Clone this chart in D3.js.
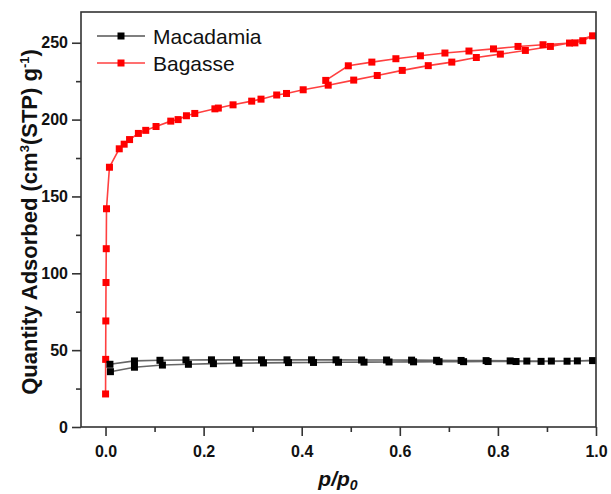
<!DOCTYPE html>
<html>
<head>
<meta charset="utf-8">
<script src="https://cdn.jsdelivr.net/npm/d3@7"></script>
<style>
body{margin:0;background:#fff;}
text{font-family:Arial,"Liberation Sans",sans-serif;}
</style>
</head>
<body>
<svg id="svg" width="611" height="494"></svg>
<script>
// Macadamia isotherm
var macAdsP = [0.01,0.059,0.116,0.169,0.22,0.272,0.322,0.373,0.424,0.475,0.527,0.578,0.628,0.68,0.73,0.78,0.837,0.888,0.941,0.993];
var macAdsV = [36,38.9,40.3,40.8,41.2,41.5,41.7,41.9,42,42.1,42.2,42.3,42.4,42.5,42.5,42.6,42.6,42.7,42.8,43.2];
var macDesP = [0.962,0.909,0.859,0.825,0.776,0.725,0.675,0.624,0.573,0.522,0.47,0.42,0.37,0.318,0.267,0.216,0.164,0.111,0.059,0.009];
var macDesV = [43,42.9,42.9,43,43.2,43.3,43.4,43.5,43.6,43.6,43.7,43.7,43.7,43.7,43.7,43.7,43.6,43.4,43.0,40.8];

// Bagasse isotherm
var bagAdsP = [0.0001,0.0003,0.0006,0.001,0.0015,0.002,0.008,0.028,0.038,0.049,0.067,0.082,0.103,0.133,0.148,0.165,0.182,0.223,0.23,0.26,0.298,0.317,0.349,0.369,0.403,0.454,0.506,0.554,0.605,0.658,0.706,0.756,0.805,0.856,0.907,0.946,0.993];
var bagAdsV = [21.5,44,69,94,116,142,169,181,184,187,191,193,195.5,199,200,202.5,204,207,207.5,209.6,212,213.3,216,217,219.4,222.4,225.7,228.7,232,235.1,237.4,240.4,242.6,245,247.6,249.8,254.5];
var bagDesP = [0.973,0.957,0.892,0.841,0.791,0.741,0.692,0.642,0.592,0.543,0.495,0.449];
var bagDesV = [251.3,249.9,248.7,247.6,246,244.6,243.3,241.5,239.6,237.4,235,225.5];

var xTicks = [0,0.2,0.4,0.6,0.8,1.0];
var yTicks = [0,50,100,150,200,250];
var seriesNames = ["Macadamia","Bagasse"];

var pL = 81, pR = 596, pT = 12, pB = 427;

var x = d3.scaleLinear().domain([-0.05,1.0]).range([pL,pR]);
var y = d3.scaleLinear().domain([0,270]).range([pB,pT]);

var svg = d3.select("svg");

var toPts = function(ps,vs){
    return ps.map(function(p,i){ return [p,vs[i]]; });
};

var bag = toPts(bagAdsP,bagAdsV).concat(toPts(bagDesP,bagDesV));
var mac = toPts(macAdsP,macAdsV).concat(toPts(macDesP,macDesV));

var series = [
    {name:"Bagasse",pts:bag,line:"#ff4040",mark:"#ff0000"},
    {name:"Macadamia",pts:mac,line:"#666666",mark:"#000000"}
];

var line = d3.line()
    .x(function(d){ return x(d[0]); })
    .y(function(d){ return y(d[1]); });

var plot = svg.append("g");

series.forEach(function(s){
    plot.append("path")
	.attr("d",line(s.pts))
	.attr("fill","none")
	.attr("stroke",s.line)
	.attr("stroke-width",1.6);
    plot.selectAll(null)
	.data(s.pts)
	.enter()
	.append("rect")
	.attr("x",function(d){ return x(d[0])-3.5; })
	.attr("y",function(d){ return y(d[1])-3.5; })
	.attr("width",7)
	.attr("height",7)
	.attr("fill",s.mark);
});

// frame
svg.append("rect")
    .attr("x",pL).attr("y",pT)
    .attr("width",pR-pL).attr("height",pB-pT)
    .attr("fill","none")
    .attr("stroke","#333")
    .attr("stroke-width",1.6);

// axes
svg.append("g")
    .attr("transform","translate(0,"+pB+")")
    .call(d3.axisBottom(x).tickValues(xTicks).tickSize(9).tickPadding(10)
	  .tickFormat(d3.format(".1f")));
svg.append("g")
    .attr("transform","translate(0,"+pB+")")
    .call(d3.axisBottom(x).tickValues([0.1,0.3,0.5,0.7,0.9]).tickSize(5).tickFormat(""));

svg.append("g")
    .attr("transform","translate("+pL+",0)")
    .call(d3.axisLeft(y).tickValues(yTicks).tickSize(9).tickPadding(4));
svg.append("g")
    .attr("transform","translate("+pL+",0)")
    .call(d3.axisLeft(y).tickValues([25,75,125,175,225]).tickSize(5).tickFormat(""));

svg.selectAll(".domain").remove();
svg.selectAll(".tick line").attr("stroke","#333").attr("stroke-width",1.6);
svg.selectAll(".tick text")
    .attr("fill","#111")
    .style("font-size","16px")
    .style("font-weight","bold")
    .style("font-family","Arial, 'Liberation Sans', sans-serif");

// axis titles
var yl = svg.append("text")
    .attr("transform","translate(37,222) rotate(-90)")
    .attr("text-anchor","middle")
    .style("font-size","22px")
    .style("font-weight","bold")
    .attr("fill","#111");
yl.append("tspan").text("Quantity Adsorbed (cm");
yl.append("tspan").text("3").attr("dy",-8).style("font-size","13px");
yl.append("tspan").text("(STP) g").attr("dy",8);
yl.append("tspan").text("-1").attr("dy",-8).style("font-size","13px");
yl.append("tspan").text(")").attr("dy",8);

var xl = svg.append("text")
    .attr("x",338).attr("y",486)
    .attr("text-anchor","middle")
    .style("font-size","21px")
    .style("font-weight","bold")
    .style("font-style","italic")
    .attr("fill","#111");
xl.append("tspan").text("p/p");
xl.append("tspan").text("0").attr("dy",4).style("font-size","14px");

// legend
var leg = svg.append("g");
var legColors = {"Macadamia":["#555555","#000000"],"Bagasse":["#ff4040","#ff0000"]};
seriesNames.forEach(function(n,i){
    var ly = 36+i*27;
    leg.append("line")
	.attr("x1",97).attr("x2",145)
	.attr("y1",ly).attr("y2",ly)
	.attr("stroke",legColors[n][0])
	.attr("stroke-width",1.6);
    leg.append("rect")
	.attr("x",117.5).attr("y",ly-3.5)
	.attr("width",7).attr("height",7)
	.attr("fill",legColors[n][1]);
    leg.append("text")
	.attr("x",153).attr("y",ly+8)
	.style("font-size","21px")
	.attr("fill","#111")
	.text(n);
});
</script>
</body>
</html>
